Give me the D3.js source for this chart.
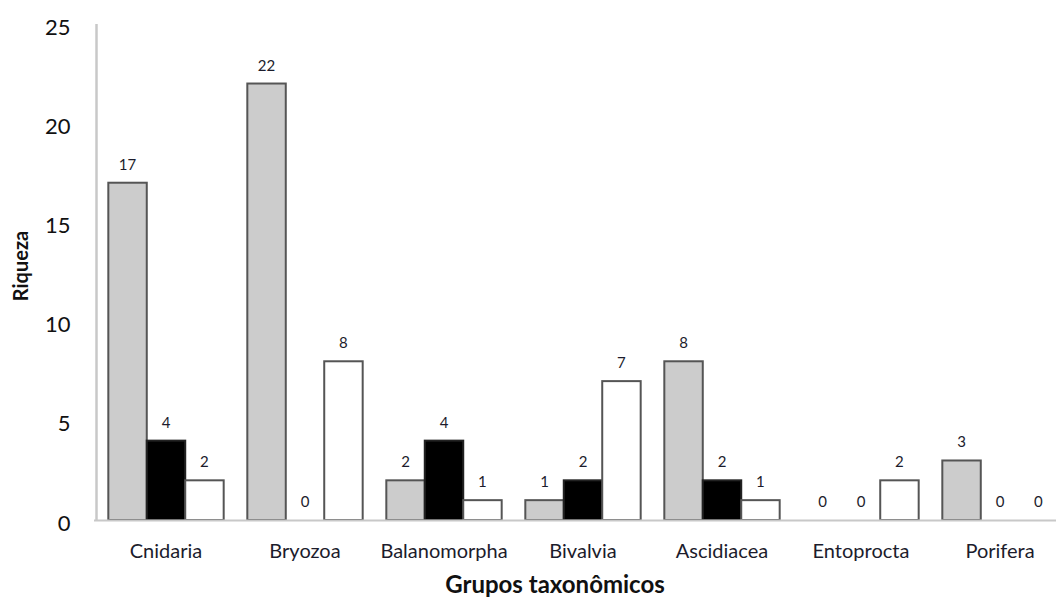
<!DOCTYPE html>
<html>
<head>
<meta charset="utf-8">
<script src="https://cdn.jsdelivr.net/npm/d3@7"></script>
<style>
  html, body { margin: 0; padding: 0; background: #fff; }
  svg { display: block; }
</style>
</head>
<body>
<svg id="chart" width="1056" height="599"></svg>
<script>
const categories = ["Cnidaria", "Bryozoa", "Balanomorpha", "Bivalvia", "Ascidiacea", "Entoprocta", "Porifera"];
const seriesNames = ["s1", "s2", "s3"];
const series1 = [17, 22, 2, 1, 8, 0, 3];
const series2 = [4, 0, 4, 2, 2, 0, 0];
const series3 = [2, 8, 1, 7, 1, 2, 0];
const yTicks = [0, 5, 10, 15, 20, 25];
const seriesFill = ["#cccccc", "#000000", "#ffffff"];
const seriesStroke = ["#555555", "#222222", "#555555"];

const W = 1056, H = 599;
const svg = d3.select("#chart");
const font = "Lato, 'Open Sans', sans-serif";
const textColor = "#1c1c2c";

const x0 = d3.scaleBand().domain(categories).range([96.5, 1069.5])
  .paddingInner(0.17).paddingOuter(0.085);
const x1 = d3.scaleBand().domain(seriesNames).range([0, x0.bandwidth()]);
const y = d3.scaleLinear().domain([0, 25]).range([520, 24]);

const allSeries = [series1, series2, series3];
const data = [];
categories.forEach((c, i) => {
  seriesNames.forEach((s, j) => {
    data.push({cat: c, s: s, j: j, v: allSeries[j][i]});
  });
});

// y axis line
svg.append("line")
  .attr("x1", 96.5).attr("x2", 96.5)
  .attr("y1", y(25)).attr("y2", y(0))
  .attr("stroke", "#c8c8c8").attr("stroke-width", 2.5);

// y axis labels
const yAxis = d3.axisLeft(y).tickValues(yTicks).tickSize(0).tickPadding(26);
const gy = svg.append("g").attr("transform", "translate(96.5,3)").call(yAxis);
gy.select(".domain").remove();
gy.selectAll("text").attr("font-family", font).attr("font-size", 22).attr("fill", "#111");

// bars
const bars = svg.append("g");
bars.selectAll("rect")
  .data(data.filter(d => d.v > 0))
  .join("rect")
  .attr("x", d => x0(d.cat) + x1(d.s))
  .attr("y", d => y(d.v))
  .attr("width", x1.bandwidth())
  .attr("height", d => y(0) - y(d.v))
  .attr("fill", d => seriesFill[d.j])
  .attr("stroke", d => seriesStroke[d.j])
  .attr("stroke-width", 2);

// baseline
svg.append("line")
  .attr("x1", 94).attr("x2", W)
  .attr("y1", y(0) + 0.5).attr("y2", y(0) + 0.5)
  .attr("stroke", "#c8c8c8").attr("stroke-width", 2);

// value labels
svg.append("g").selectAll("text")
  .data(data)
  .join("text")
  .attr("x", d => x0(d.cat) + x1(d.s) + x1.bandwidth() / 2)
  .attr("y", d => y(d.v) - 13)
  .attr("text-anchor", "middle")
  .attr("font-family", font)
  .attr("font-size", 15)
  .attr("fill", textColor)
  .text(d => d.v);

// x axis labels
const xAxis = d3.axisBottom(x0).tickSize(0).tickPadding(24);
const gx = svg.append("g").attr("transform", `translate(0,${y(0)})`).call(xAxis);
gx.select(".domain").remove();
gx.selectAll("text").attr("font-family", font).attr("font-size", 20).attr("fill", textColor);

// axis titles
svg.append("text")
  .attr("x", 555).attr("y", 593)
  .attr("text-anchor", "middle")
  .attr("font-family", font).attr("font-weight", "bold").attr("font-size", 24)
  .attr("fill", "#111")
  .text("Grupos taxonômicos");

svg.append("text")
  .attr("transform", "translate(28,266) rotate(-90)")
  .attr("text-anchor", "middle")
  .attr("font-family", font).attr("font-weight", "bold").attr("font-size", 20)
  .attr("fill", "#111")
  .text("Riqueza");
</script>
</body>
</html>
